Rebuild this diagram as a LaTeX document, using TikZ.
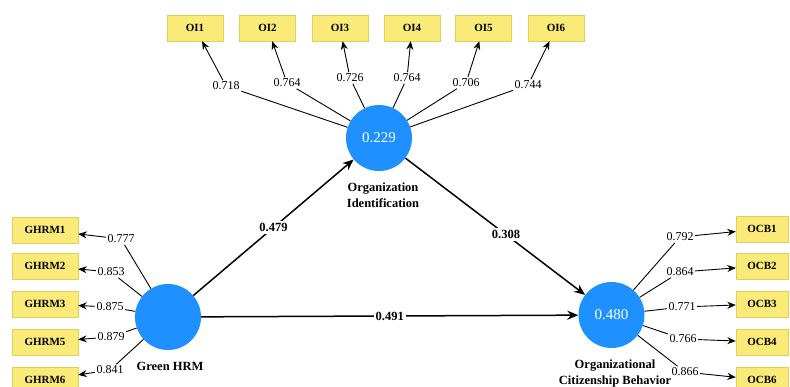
\documentclass[tikz,border=0pt]{standalone}
\usepackage{fontspec}
\setmainfont{Liberation Serif}
\usetikzlibrary{arrows.meta}
\definecolor{lvblue}{RGB}{30,144,255}
\definecolor{indyellow}{RGB}{250,234,120}
\definecolor{indedge}{RGB}{226,206,92}
\tikzset{
  latent/.style={circle, fill=lvblue, minimum size=66pt, inner sep=0pt, text=white, font=\fontsize{15}{15}\selectfont},
  ind/.style={draw=indedge, fill=indyellow, minimum height=26pt, inner sep=0pt, font=\fontsize{11}{12}\selectfont\bfseries},
  load/.style={inner sep=1.5pt, font=\fontsize{12}{14}\selectfont},
  coef/.style={fill=white, inner sep=2pt, font=\fontsize{12.5}{14}\selectfont\bfseries},
  cname/.style={align=center, font=\fontsize{12.5}{16}\selectfont\bfseries},
  thinline/.style={line width=0.9pt},
  tip/.style={-{Stealth[length=8.5pt,width=7pt]}},
  struct/.style={line width=1.5pt, -{Stealth[length=11pt,width=9pt]}}
}
\begin{document}
\begin{tikzpicture}[x=1pt, y=-1pt]
\useasboundingbox (0,0) rectangle (790,387);

\node[latent] (oi) at (379,138) {0.229};
\node[latent] (ghrm) at (168,317) {};
\node[latent] (ocb) at (611.5,315) {0.480};

\node[cname] (oiname) at (383,195) {Organization\\Identification};
\node[cname] (ghrmname) at (170,366) {Green HRM};
\node[cname] (ocbname) at (615,373) {Organizational\\Citizenship Behavior};

\node[ind, minimum width=56pt] (oi1) at (195,28) {OI1};
\node[ind, minimum width=56pt] (oi2) at (267.5,28) {OI2};
\node[ind, minimum width=56pt] (oi3) at (340,28) {OI3};
\node[ind, minimum width=56pt] (oi4) at (412,28) {OI4};
\node[ind, minimum width=56pt] (oi5) at (483.5,28) {OI5};
\node[ind, minimum width=56pt] (oi6) at (556,28) {OI6};

\node[ind, minimum width=66pt] (ghrm1) at (45,230) {GHRM1};
\node[ind, minimum width=66pt] (ghrm2) at (45,266) {GHRM2};
\node[ind, minimum width=66pt] (ghrm3) at (45,304) {GHRM3};
\node[ind, minimum width=66pt] (ghrm5) at (45,342) {GHRM5};
\node[ind, minimum width=66pt] (ghrm6) at (45,380) {GHRM6};

\node[ind, minimum width=52pt] (ocb1) at (762,229) {OCB1};
\node[ind, minimum width=52pt] (ocb2) at (762,266) {OCB2};
\node[ind, minimum width=52pt] (ocb3) at (762,304) {OCB3};
\node[ind, minimum width=52pt] (ocb4) at (762,342) {OCB4};
\node[ind, minimum width=52pt] (ocb6) at (762,380) {OCB6};

\node[load] (lo1) at (226,86) {0.718};
\node[load] (lo2) at (287,83) {0.764};
\node[load] (lo3) at (350,78) {0.726};
\node[load] (lo4) at (407,78) {0.764};
\node[load] (lo5) at (466,83) {0.706};
\node[load] (lo6) at (528,85) {0.744};

\node[load] (lg1) at (121,239) {0.777};
\node[load] (lg2) at (111,272) {0.853};
\node[load] (lg3) at (110,307) {0.875};
\node[load] (lg5) at (111,337) {0.879};
\node[load] (lg6) at (110,370) {0.841};

\node[load] (lc1) at (680,237) {0.792};
\node[load] (lc2) at (680,272) {0.864};
\node[load] (lc3) at (682,307) {0.771};
\node[load] (lc4) at (683,339) {0.766};
\node[load] (lc6) at (685,372) {0.866};

\path[thinline]
(oi) edge (lo1)   (lo1) edge[tip] (oi1)
(oi) edge (lo2)   (lo2) edge[tip] (oi2)
(oi) edge (lo3)   (lo3) edge[tip] (oi3)
(oi) edge (lo4)   (lo4) edge[tip] (oi4)
(oi) edge (lo5)   (lo5) edge[tip] (oi5)
(oi) edge (lo6)   (lo6) edge[tip] (oi6)

(ghrm) edge (lg1)   (lg1) edge[tip] (ghrm1)
(ghrm) edge (lg2)   (lg2) edge[tip] (ghrm2)
(ghrm) edge (lg3)   (lg3) edge[tip] (ghrm3)
(ghrm) edge (lg5)   (lg5) edge[tip] (ghrm5)
(ghrm) edge (lg6)   (lg6) edge[tip] (ghrm6)

(ocb) edge (lc1)   (lc1) edge[tip] (ocb1)
(ocb) edge (lc2)   (lc2) edge[tip] (ocb2)
(ocb) edge (lc3)   (lc3) edge[tip] (ocb3)
(ocb) edge (lc4)   (lc4) edge[tip] (ocb4)
(ocb) edge (lc6)   (lc6) edge[tip] (ocb6)
;

\draw[struct] (ghrm) -- node[coef] (b1) {0.479} (oi);
\draw[struct] (oi) -- node[coef, pos=0.56] (b2) {0.308} (ocb);
\draw[struct] (ghrm) -- node[coef] (b3) {0.491} (ocb);
\end{tikzpicture}
\end{document}
